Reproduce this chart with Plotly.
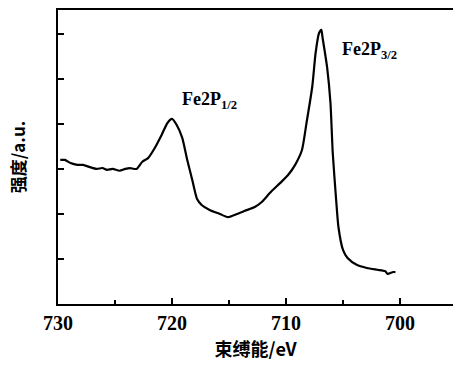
import plotly.graph_objects as go

binding_energy = [729.8, 729.4, 728.9, 728.3, 727.8, 727.2, 726.6, 726.1, 725.7, 725.2,
                  724.6, 724.1, 723.7, 723.1, 722.6, 722.1, 721.5, 720.9, 720.4, 720.0,
                  719.6, 719.1, 718.7, 718.2, 717.8, 717.4, 716.7, 715.8, 715.1, 714.3,
                  713.6, 712.7, 712.1, 711.4, 710.5, 709.8, 709.2, 708.6, 708.2, 707.7,
                  707.4, 707.1, 706.9, 706.8, 706.4, 706.1, 705.9, 705.6, 705.4, 705.0,
                  704.6, 703.8, 702.9, 702.0, 701.3, 701.1, 700.6, 700.4]
intensity = [3.20, 3.20, 3.13, 3.09, 3.09, 3.04, 3.00, 3.02, 2.98, 3.00,
             2.96, 3.00, 3.02, 3.00, 3.16, 3.24, 3.47, 3.76, 4.02, 4.11,
             3.98, 3.69, 3.24, 2.73, 2.33, 2.20, 2.09, 2.00, 1.93, 2.00,
             2.07, 2.16, 2.27, 2.47, 2.69, 2.87, 3.09, 3.42, 4.02, 4.82,
             5.58, 6.02, 6.09, 5.93, 5.27, 4.47, 3.36, 2.31, 1.71, 1.20,
             1.02, 0.87, 0.80, 0.76, 0.73, 0.67, 0.71, 0.71]
x_ticks = [730, 720, 710, 700]
y_ticks = [1, 2, 3, 4, 5, 6]

fig = go.Figure()
fig.add_trace(go.Scatter(x=binding_energy, y=intensity, mode="lines",
                         line=dict(color="black", width=2.2, shape="spline", smoothing=0.6),
                         showlegend=False, hoverinfo="skip"))

serif = "Liberation Serif, Times New Roman, serif"
cjk = "Noto Sans CJK SC"

fig.add_annotation(x=719.3, y=4.53, xref="x", yref="y", xanchor="left", yanchor="middle",
                   text="<b>Fe2P<sub>1/2</sub></b>", showarrow=False,
                   font=dict(family=serif, size=18, color="black"))
fig.add_annotation(x=705.3, y=5.64, xref="x", yref="y", xanchor="left", yanchor="middle",
                   text="<b>Fe2P<sub>3/2</sub></b>", showarrow=False,
                   font=dict(family=serif, size=18, color="black"))

fig.update_layout(
    width=453, height=366,
    margin=dict(l=58, r=0, t=10, b=62),
    paper_bgcolor="white", plot_bgcolor="white",
    xaxis=dict(range=[730, 695.35], tickvals=x_ticks, ticktext=[str(v) for v in x_ticks],
               ticks="inside", ticklen=6, tickwidth=2, tickcolor="black",
               minor=dict(dtick=5, tick0=730, ticks="inside", ticklen=4, tickwidth=2, tickcolor="black"),
               showline=True, linecolor="black", linewidth=2, mirror=True,
               showgrid=False, zeroline=False,
               tickfont=dict(family=serif, size=20, color="black", weight="bold"),
               title=dict(text="<b>束缚能/eV</b>", font=dict(family=cjk, size=18, color="black"), standoff=10)),
    yaxis=dict(range=[0, 6.53], tickvals=y_ticks, showticklabels=False,
               ticks="inside", ticklen=6, tickwidth=2, tickcolor="black",
               showline=True, linecolor="black", linewidth=2, mirror=False,
               showgrid=False, zeroline=False,
               title=dict(text="<b>强度/a.u.</b>", font=dict(family=cjk, size=17, color="black"), standoff=26)),
)

fig.write_html("out.html")
